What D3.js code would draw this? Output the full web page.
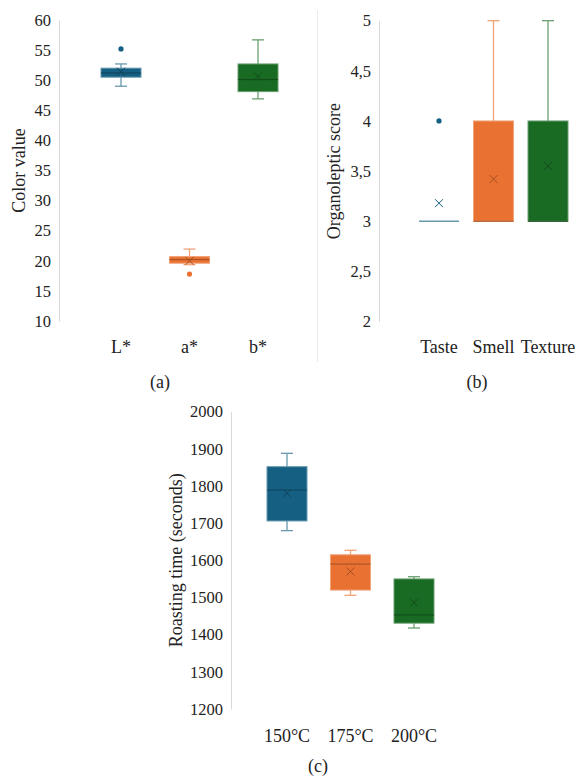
<!DOCTYPE html>
<html>
<head>
<meta charset="utf-8">
<script src="https://cdn.jsdelivr.net/npm/d3@7"></script>
<style>
  body { margin: 0; background: #fff; }
  text { font-family: "Liberation Serif", "Tinos", "Times New Roman", "DejaVu Serif", serif; fill: #262626; }
</style>
</head>
<body>
<script>
'use strict';

// (a) colour values
const colorCats = ["L*", "a*", "b*"]
const colorMin = [49.0, 19.35, 46.9]
const colorQ1 = [50.5, 19.6, 48.1]
const colorMedian = [51.2, 20.2, 50.1]
const colorQ3 = [52.0, 20.7, 52.7]
const colorMax = [52.7, 21.95, 56.7]
const colorMean = [51.4, 20.0, 50.6]
const colorOutliers = [[55.2], [17.8], []]
const colorTicks = [10, 15, 20, 25, 30, 35, 40, 45, 50, 55, 60]

// (b) organoleptic scores
const senseCats = ["Taste", "Smell", "Texture"]
const senseMin = [3, 3, 3]
const senseQ1 = [3, 3, 3]
const senseMedian = [3, 3, 3]
const senseQ3 = [3, 4, 4]
const senseMax = [3, 5, 5]
const senseMean = [3.18, 3.42, 3.55]
const senseOutliers = [[4], [], []]
const senseTicks = [2, 2.5, 3, 3.5, 4, 4.5, 5]

// (c) roasting time
const tempCats = ["150°C", "175°C", "200°C"]
const tempMin = [1680, 1506, 1418]
const tempQ1 = [1706, 1520, 1431]
const tempMedian = [1789, 1590, 1453]
const tempQ3 = [1852, 1615, 1550]
const tempMax = [1888, 1627, 1556]
const tempMean = [1781, 1570, 1486]
const tempOutliers = [[], [], []]
const tempTicks = [1200, 1300, 1400, 1500, 1600, 1700, 1800, 1900, 2000]

const seriesColors = ["#156082", "#E97132", "#196B24"]

const fontStack = '"Liberation Serif", "Tinos", "Times New Roman", "DejaVu Serif", serif'

const m = {
  width: 579,
  height: 778,
  boxWidth: 40,
  capWidth: 12
}

let svg = d3.select('body')
  .append('svg')
  .attr('width', m.width)
  .attr('height', m.height)

const panels = [
  {
    cats: colorCats, min: colorMin, q1: colorQ1, med: colorMedian, q3: colorQ3,
    max: colorMax, mean: colorMean, out: colorOutliers, ticks: colorTicks,
    fmt: (d) => d,
    xRange: [121, 258], axisX: 59, yRange: [321, 20],
    title: "Color value", titleX: 19,
    catY: 353, tag: "(a)", tagX: 160, tagY: 388
  },
  {
    cats: senseCats, min: senseMin, q1: senseQ1, med: senseMedian, q3: senseQ3,
    max: senseMax, mean: senseMean, out: senseOutliers, ticks: senseTicks,
    fmt: (d) => String(d).replace('.', ','),
    xRange: [439, 548], axisX: 379, yRange: [321.5, 20.7],
    title: "Organoleptic score", titleX: 334,
    catY: 353, tag: "(b)", tagX: 477, tagY: 388
  },
  {
    cats: tempCats, min: tempMin, q1: tempQ1, med: tempMedian, q3: tempQ3,
    max: tempMax, mean: tempMean, out: tempOutliers, ticks: tempTicks,
    fmt: (d) => d,
    xRange: [287, 414], axisX: 231, yRange: [709, 411.7],
    title: "Roasting time (seconds)", titleX: 176,
    catY: 742, tag: "(c)", tagX: 318, tagY: 772
  }
]

// faint chart-area border left of panel (b)
svg.append('line')
  .attr('x1', 317.5).attr('x2', 317.5)
  .attr('y1', 10).attr('y2', 362)
  .style('stroke', '#ececec')
  .style('stroke-width', 1)

panels.forEach((p) => drawPanel(p))


function drawPanel(p) {
  let g = svg.append('g')

  let xScale = d3.scalePoint()
    .domain(p.cats)
    .range(p.xRange)

  let yScale = d3.scaleLinear()
    .domain(d3.extent(p.ticks))
    .range(p.yRange)

  let yAxis = d3.axisLeft(yScale)
    .tickValues(p.ticks)
    .tickFormat(p.fmt)
    .tickSize(0)
    .tickSizeOuter(0)
    .tickPadding(8)

  let ax = g.append('g')
    .attr('transform', 'translate(' + p.axisX + ', 0)')
    .call(yAxis)
    .attr('font-family', fontStack)
  ax.select('.domain')
    .style('stroke', '#d9d9d9')
    .style('stroke-width', 1)
  ax.selectAll('text')
    .style('font-family', fontStack)
    .style('font-size', '16.5px')
    .style('fill', '#222')

  plotBoxes(g, p, xScale, yScale)
  makeLabels(g, p, xScale, yScale)
}


function plotBoxes(g, p, xScale, yScale) {
  let rows = p.cats.map((c, i) => ({
    cat: c, min: p.min[i], q1: p.q1[i], med: p.med[i], q3: p.q3[i],
    max: p.max[i], mean: p.mean[i], out: p.out[i], color: seriesColors[i]
  }))

  let half = m.boxWidth / 2
  let cap = m.capWidth / 2

  let box = g.selectAll('.box')
    .data(rows)
    .enter().append('g')
    .attr('class', 'box')

  let light = (d) => d3.interpolateRgb(d.color, '#ffffff')(0.35)
  let dark = (d) => d3.interpolateRgb(d.color, '#000000')(0.3)

  // upper whisker
  box.filter((d) => d.max > d.q3).each(function(d) {
    let b = d3.select(this)
    let cx = xScale(d.cat)
    b.append('line')
      .attr('x1', cx).attr('x2', cx)
      .attr('y1', yScale(d.max)).attr('y2', yScale(d.q3))
      .style('stroke', light(d)).style('stroke-width', 1.3)
    b.append('line')
      .attr('x1', cx - cap).attr('x2', cx + cap)
      .attr('y1', yScale(d.max)).attr('y2', yScale(d.max))
      .style('stroke', light(d)).style('stroke-width', 1.3)
  })

  // lower whisker
  box.filter((d) => d.min < d.q1).each(function(d) {
    let b = d3.select(this)
    let cx = xScale(d.cat)
    b.append('line')
      .attr('x1', cx).attr('x2', cx)
      .attr('y1', yScale(d.q1)).attr('y2', yScale(d.min))
      .style('stroke', light(d)).style('stroke-width', 1.3)
    b.append('line')
      .attr('x1', cx - cap).attr('x2', cx + cap)
      .attr('y1', yScale(d.min)).attr('y2', yScale(d.min))
      .style('stroke', light(d)).style('stroke-width', 1.3)
  })

  // box body
  box.filter((d) => d.q3 > d.q1)
    .append('rect')
    .attr('x', (d) => xScale(d.cat) - half)
    .attr('y', (d) => yScale(d.q3))
    .attr('width', m.boxWidth)
    .attr('height', (d) => yScale(d.q1) - yScale(d.q3))
    .style('fill', (d) => d.color)
    .style('stroke', light)
    .style('stroke-width', 1)

  // median
  box.append('line')
    .attr('x1', (d) => xScale(d.cat) - half)
    .attr('x2', (d) => xScale(d.cat) + half)
    .attr('y1', (d) => yScale(d.med))
    .attr('y2', (d) => yScale(d.med))
    .style('stroke', (d) => d.q3 > d.q1 ? dark(d) : light(d))
    .style('stroke-width', (d) => d.q3 > d.q1 ? 1 : 1.6)

  // mean marker (x)
  box.append('path')
    .attr('d', (d) => {
      let cx = xScale(d.cat)
      let cy = yScale(d.mean)
      let s = 4
      return 'M' + (cx - s) + ',' + (cy - s) + 'L' + (cx + s) + ',' + (cy + s) +
             'M' + (cx - s) + ',' + (cy + s) + 'L' + (cx + s) + ',' + (cy - s)
    })
    .style('stroke', (d) => d.q3 > d.q1 ? dark(d) : d.color)
    .style('stroke-width', 1)
    .style('fill', 'none')

  // outliers
  box.selectAll('.outlier')
    .data((d) => d.out.map((v) => ({cat: d.cat, v: v, color: d.color})))
    .enter().append('circle')
    .attr('class', 'outlier')
    .attr('cx', (d) => xScale(d.cat))
    .attr('cy', (d) => yScale(d.v))
    .attr('r', 2.6)
    .style('fill', (d) => d.color)
}


function makeLabels(g, p, xScale, yScale) {
  g.selectAll('.cat')
    .data(p.cats)
    .enter().append('text')
    .attr('class', 'cat')
    .attr('x', (d) => xScale(d))
    .attr('y', p.catY)
    .style('text-anchor', 'middle')
    .style('font-family', fontStack)
    .style('font-size', '18px')
    .style('fill', '#222')
    .text((d) => d)

  let midY = (p.yRange[0] + p.yRange[1]) / 2
  g.append('text')
    .attr('transform', 'translate(' + p.titleX + ', ' + midY + ')rotate(-90)')
    .attr('dy', '0.35em')
    .style('text-anchor', 'middle')
    .style('font-family', fontStack)
    .style('font-size', '18px')
    .style('fill', '#222')
    .text(p.title)

  g.append('text')
    .attr('x', p.tagX)
    .attr('y', p.tagY)
    .style('text-anchor', 'middle')
    .style('font-family', fontStack)
    .style('font-size', '18px')
    .style('fill', '#222')
    .text(p.tag)
}
</script>
</body>
</html>
